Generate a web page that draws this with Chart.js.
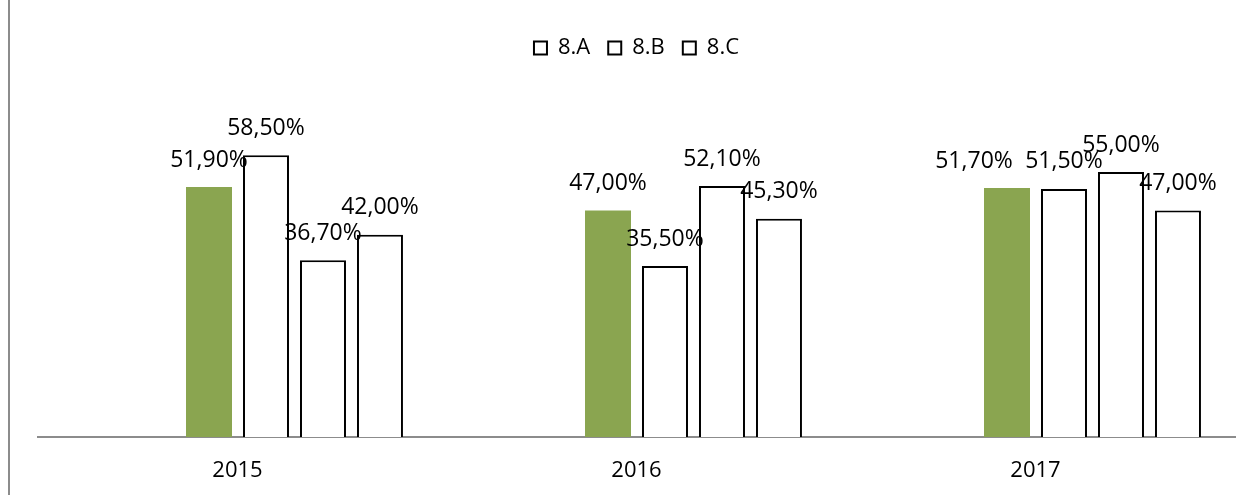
<!DOCTYPE html>
<html>
<head>
<meta charset="utf-8">
<script src="https://cdn.jsdelivr.net/npm/chart.js@4/dist/chart.umd.min.js"></script>
<style>
  html, body { margin: 0; padding: 0; background: #fff; }
  #wrap { position: relative; width: 1250px; height: 495px; }
  #frame { position: absolute; left: 8px; top: 0; width: 2px; height: 495px; background: #8c8c8c; }
  canvas { position: absolute; left: 0; top: 0; }
</style>
</head>
<body>
<div id="wrap">
  <canvas id="chart" width="1250" height="495"></canvas>
  <div id="frame"></div>
</div>
<script>
// categories and series
const years = ['2015', '2016', '2017'];
const total = [51.9, 47.0, 51.7];   // green bars, no legend entry
const classA = [58.5, 35.5, 51.5];
const classB = [36.7, 52.1, 55.0];
const classC = [42.0, 45.3, 47.0];
const legendNames = ['8.A', '8.B', '8.C'];

const FONT = "'Open Sans', sans-serif";

// one label was moved by hand in the original so it does not overlap its neighbour
const labelNudge = { 'Total:2': -33 };

// format like 51,90%
function pct(v) {
  return v.toFixed(2).replace('.', ',') + '%';
}

// draws the value above every bar that has data
const barLabels = {
  id: 'barLabels',
  afterDatasetsDraw(chart) {
    const ctx = chart.ctx;
    ctx.save();
    ctx.font = '23px ' + FONT;
    ctx.fillStyle = '#000';
    ctx.textAlign = 'center';
    ctx.textBaseline = 'middle';
    chart.data.datasets.forEach((ds, i) => {
      if (!ds.data.length) return;
      const meta = chart.getDatasetMeta(i);
      meta.data.forEach((bar, j) => {
        const dx = labelNudge[ds.label + ':' + j] || 0;
        ctx.fillText(pct(ds.data[j]), bar.x + dx, bar.y - 27);
      });
    });
    ctx.restore();
  }
};

const whiteBar = {
  backgroundColor: '#fff',
  borderColor: '#000',
  borderWidth: 2
};

new Chart(document.getElementById('chart'), {
  type: 'bar',
  data: {
    labels: years,
    datasets: [
      // two empty slots push the groups to the right, as in the picture
      { label: '', data: [] },
      { label: '', data: [] },
      { label: 'Total', data: total, backgroundColor: '#8aa550', borderWidth: 0 },
      Object.assign({ label: legendNames[0], data: classA }, whiteBar),
      Object.assign({ label: legendNames[1], data: classB }, whiteBar),
      Object.assign({ label: legendNames[2], data: classC }, whiteBar)
    ]
  },
  options: {
    responsive: false,
    animation: false,
    events: [],
    barPercentage: 0.807,
    categoryPercentage: 0.857,
    layout: { padding: { left: 38, right: 15, top: 19, bottom: 0 } },
    plugins: {
      tooltip: { enabled: false },
      legend: {
        position: 'top',
        labels: {
          font: { family: FONT, size: 22 },
          color: '#000',
          boxWidth: 13,
          boxHeight: 13,
          padding: 18,
          filter: (item) => legendNames.includes(item.text)
        }
      }
    },
    scales: {
      x: {
        grid: { display: false, drawTicks: false },
        border: { display: true, color: '#8c8c8c', width: 2 },
        ticks: { font: { family: FONT, size: 22 }, color: '#000', padding: 21 },
        afterFit: (scale) => { scale.height = 58; }
      },
      y: {
        display: false,
        min: 0,
        max: 76.4
      }
    }
  },
  plugins: [barLabels]
});
</script>
</body>
</html>
